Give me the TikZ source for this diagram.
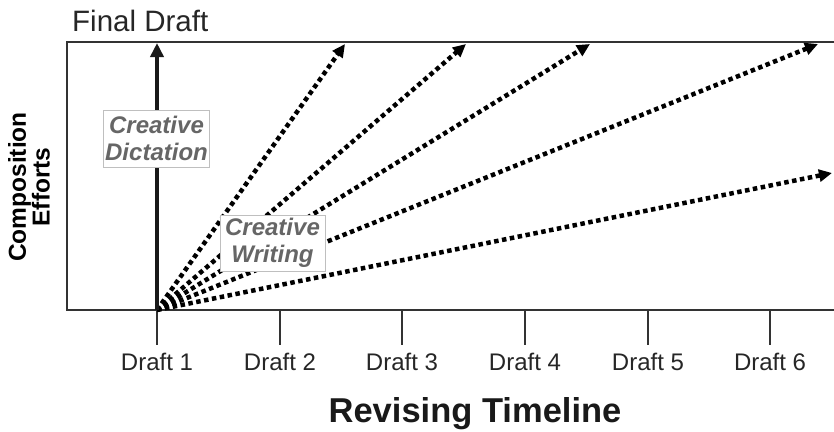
\documentclass[tikz,border=0pt]{standalone}
\usepackage{fontspec}
\setmainfont{Liberation Sans}
\usetikzlibrary{arrows.meta}
\definecolor{framec}{HTML}{333333}
\definecolor{labgray}{HTML}{666666}
\begin{document}
\begin{tikzpicture}[x=1pt,y=-1pt,
  frameline/.style={draw=framec,line width=2.5pt},
  tickline/.style={draw=framec,line width=2.5pt},
  draftlab/.style={font=\fontsize{24}{26}\selectfont,text=black!85,inner sep=0pt,anchor=base},
  solidarrow/.style={draw=black!90,line width=4.5pt,-{Triangle[length=14pt,width=13pt]}},
  dotarrow/.style={draw=black,line width=4.5pt,dash pattern=on 4.5pt off 3.5pt,-{Triangle[length=13pt,width=12pt]}},
  creabox/.style={draw=black!25,line width=0.8pt,fill=white,align=center,inner xsep=2pt,inner ysep=1pt,
     font=\bfseries\itshape\fontsize{24}{27}\selectfont,text=labgray}
]
\useasboundingbox (0,0) rectangle (834,431);
% frame
\draw[frameline] (834,42) -- (67,42) -- (67,310) -- (834,310);
% ticks and labels
\foreach \i/\x in {1/157,2/280,3/402,4/525,5/648,6/770}{
  \coordinate (t\i) at (\x,310);
  \coordinate (b\i) at (\x,345);
  \draw[tickline] (t\i) -- (b\i);
  \node[draftlab] (d\i) at (\x,370) {Draft \i};
}
\coordinate (o) at (157,310);
\coordinate (top) at (157,43);
\coordinate (e1) at (345,44);
\coordinate (e2) at (466,44);
\coordinate (e3) at (590,44);
\coordinate (e4) at (818,44);
\coordinate (e5) at (832,173);
\draw[dotarrow] (o) -- (e1);
\draw[dotarrow] (o) -- (e2);
\draw[dotarrow] (o) -- (e3);
\draw[dotarrow] (o) -- (e4);
\draw[dotarrow] (o) -- (e5);
\draw[solidarrow] (o) -- (top);
% label boxes
\node[creabox,minimum width=105pt,minimum height=57pt] (cd) at (156.5,138.5) {Creative\\Dictation};
\node[creabox,minimum width=105pt,minimum height=56pt] (cw) at (272.5,243) {Creative\\Writing};
% titles
\node[font=\fontsize{29.5}{32}\selectfont,text=black!85,anchor=base west,inner sep=0pt] (fd) at (72,31) {Final Draft};
\node[font=\bfseries\fontsize{34.5}{38}\selectfont,text=black!90,anchor=base,inner sep=0pt] (rt) at (475,422) {Revising Timeline};
\node[font=\bfseries\fontsize{24.5}{22}\selectfont,rotate=90,align=center,inner sep=0pt] (ce) at (29,187) {Composition\\Efforts};
\end{tikzpicture}
\end{document}
